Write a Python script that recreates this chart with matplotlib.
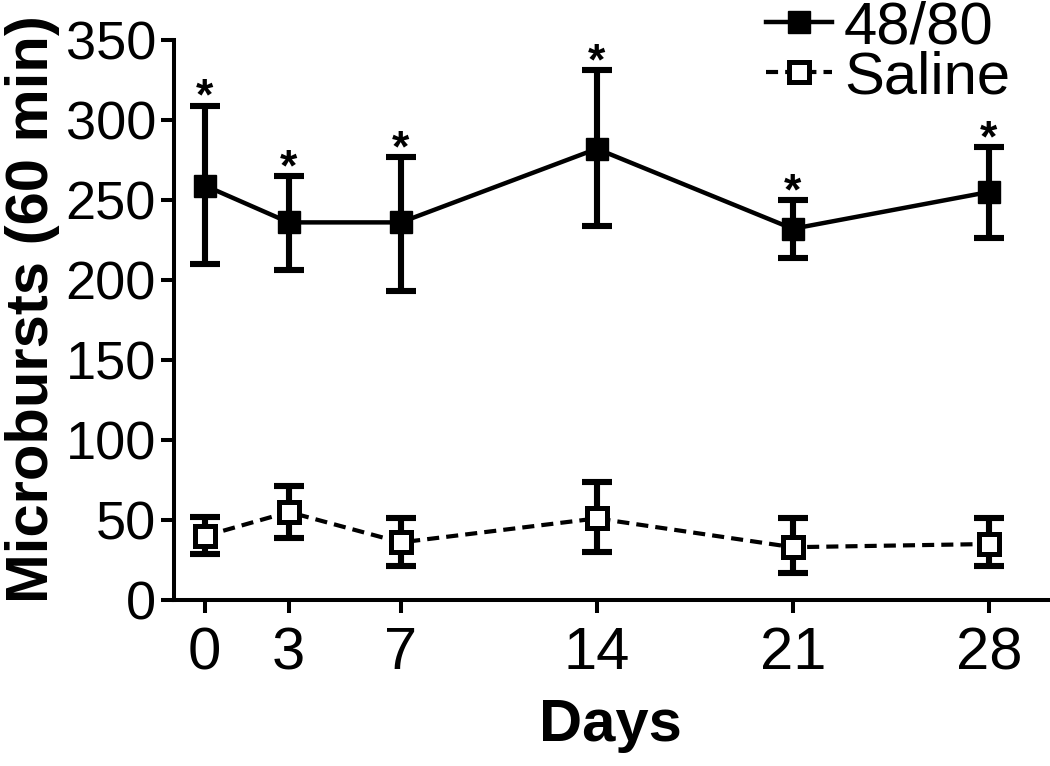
import matplotlib
matplotlib.use("Agg")
import matplotlib.pyplot as plt

plt.rcParams["font.family"] = ["Liberation Sans", "DejaVu Sans"]

# 数据
days = [0, 3, 7, 14, 21, 28]
c4880_mean = [259, 236, 236, 282, 232, 255]
c4880_lo = [210, 206, 193, 234, 214, 226]
c4880_hi = [309, 265, 277, 331, 250, 283]
saline_mean = [40, 55, 36, 51, 33, 35]
saline_lo = [29, 39, 21, 30, 17, 21]
saline_hi = [52, 71, 51, 74, 51, 51]
stars = [True] * 6

fig = plt.figure(figsize=(10.5, 7.66), dpi=100)
ax = fig.add_axes([0.1657, 0.2167, 0.832, 0.7311])

err1 = [[m - l for m, l in zip(c4880_mean, c4880_lo)],
        [h - m for m, h in zip(c4880_mean, c4880_hi)]]
err2 = [[m - l for m, l in zip(saline_mean, saline_lo)],
        [h - m for m, h in zip(saline_mean, saline_hi)]]

# 误差线
ebkw = dict(fmt="none", ecolor="black", elinewidth=4.4, capsize=10.5,
            capthick=4.4, zorder=2)
ax.errorbar(days, c4880_mean, yerr=err1, **ebkw)
ax.errorbar(days, saline_mean, yerr=err2, **ebkw)

# 折线 + 标记
ax.plot(days, c4880_mean, color="black", lw=3.2, marker="s", ms=16,
        mfc="black", mec="black", label="48/80", zorder=3)
ax.plot(days, saline_mean, color="black", lw=3.0, ls=(0, (2.9, 1.7)),
        marker="s", ms=14, mfc="white", mec="black", mew=3.6,
        label="Saline", zorder=3)

# 显著性星号
for d, h, s in zip(days, c4880_hi, stars):
    if s:
        ax.annotate("*", (d, h), xytext=(0, -3), textcoords="offset points",
                    ha="center", va="baseline", fontsize=32,
                    fontweight="bold")

ax.set_xlim(-1.1, 30.1)
ax.set_ylim(0, 350)
ax.set_xticks(days)
ax.set_yticks(range(0, 351, 50))
ax.tick_params(axis="both", direction="out", length=9.5, width=2.9)
ax.tick_params(axis="y", labelsize=39, pad=3.5)
ax.tick_params(axis="x", labelsize=43, pad=9.5)

for s in ["top", "right"]:
    ax.spines[s].set_visible(False)
for s in ["left", "bottom"]:
    ax.spines[s].set_linewidth(2.9)

ax.set_ylabel("Microbursts (60 min)", fontsize=43, fontweight="bold")
ax.yaxis.set_label_coords(-0.13, 0.52)
ax.set_xlabel("Days", fontsize=43, fontweight="bold", labelpad=12)

leg = fig.legend(loc="upper right", bbox_to_anchor=(0.962, 1.0),
                 frameon=False, fontsize=43, handlelength=1.1,
                 handletextpad=0.2, labelspacing=-0.08, borderpad=0,
                 borderaxespad=0)

plt.savefig("out.png", dpi=100)
